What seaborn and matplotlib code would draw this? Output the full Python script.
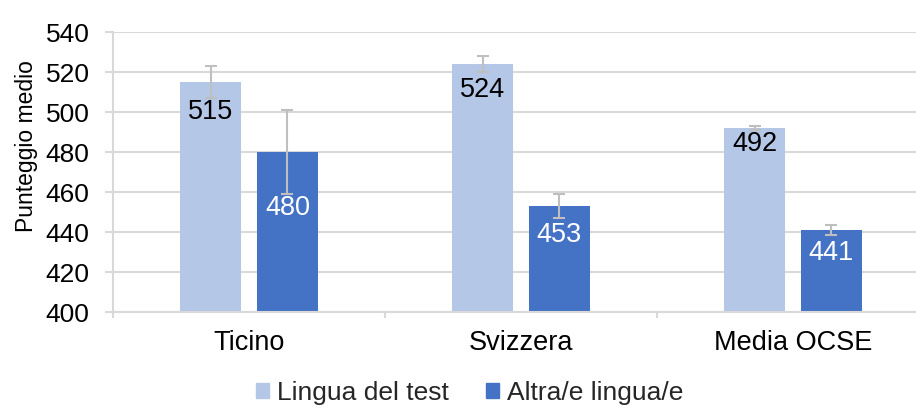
import matplotlib
matplotlib.use("Agg")
import matplotlib.pyplot as plt
import matplotlib.patches as mpatches
import pandas as pd
import seaborn as sns

# data
aree = ["Ticino", "Svizzera", "Media OCSE"]
gruppi = ["Lingua del test", "Altra/e lingua/e"]
punteggi_lingua_test = [515, 524, 492]
punteggi_altra_lingua = [480, 453, 441]
errori_lingua_test = [8, 4, 1]
errori_altra_lingua = [21, 6, 2.5]

colori = ["#B4C7E7", "#4472C4"]
colori_etichette = ["black", "white"]
# label offset below bar top (points), per group
offset_etichette = [[21.6, 18.7, 11.5], [40.3, 20.9, 16.6]]

df = pd.DataFrame({
    "Area": aree * 2,
    "Gruppo": [gruppi[0]] * 3 + [gruppi[1]] * 3,
    "Punteggio": punteggi_lingua_test + punteggi_altra_lingua,
})

sns.set_theme(style="white")
plt.rcParams["font.family"] = ["Liberation Sans", "DejaVu Sans"]

grigio = "#D9D9D9"

fig = plt.figure(figsize=(9.16, 4.08), dpi=100)
ax = fig.add_axes([113 / 916, 96 / 408, 816 / 916, 280 / 408])

sns.barplot(data=df, x="Area", y="Punteggio", hue="Gruppo", order=aree,
            hue_order=gruppi, palette=colori, saturation=1, width=0.566, gap=0.21,
            errorbar=None, linewidth=0, legend=False, ax=ax)

ax.set_ylim(400, 540)
ax.set_xlim(-0.5, 2.5)
ax.set_yticks(range(400, 541, 20))

valori = [punteggi_lingua_test, punteggi_altra_lingua]
errori = [errori_lingua_test, errori_altra_lingua]
bar_containers = list(ax.containers)
for i, cont in enumerate(bar_containers):
    for j, bar in enumerate(cont.patches):
        xc = bar.get_x() + bar.get_width() / 2
        ax.errorbar(xc, valori[i][j], yerr=errori[i][j], color="#BFBFBF",
                    lw=1.5, capsize=4.3, capthick=1.5, zorder=4)
        ax.annotate(str(valori[i][j]), (xc, valori[i][j]),
                    xytext=(0, -offset_etichette[i][j]), textcoords="offset points",
                    ha="center", va="center", fontsize=19.5,
                    color=colori_etichette[i], zorder=5)

ax.set_axisbelow(True)
ax.yaxis.grid(True, color=grigio, lw=1.5)
ax.xaxis.grid(False)
for s in ["top", "right"]:
    ax.spines[s].set_visible(False)
for s in ["left", "bottom"]:
    ax.spines[s].set_color(grigio)
    ax.spines[s].set_linewidth(1.5)

ax.set_xticks([-0.5, 0.5, 1.5, 2.5], minor=True)
ax.tick_params(axis="x", which="major", length=0, pad=13, labelsize=19.5, colors="black")
ax.tick_params(axis="x", which="minor", length=4.5, width=1.5, color=grigio)
ax.tick_params(axis="y", length=5.8, width=1.5, color=grigio, pad=11,
               labelsize=19, labelcolor="black")
ax.tick_params(axis="both", which="both", bottom=True, left=True)

ax.set_xlabel("")
ax.set_ylabel("Punteggio medio", fontsize=16.5, color="black")
ax.yaxis.set_label_coords(-0.092, 0.593)

handles = [mpatches.Patch(color=c, label=g) for c, g in zip(colori, gruppi)]
fig.legend(handles=handles, loc="center", bbox_to_anchor=(0.513, 0.037), ncol=2,
           frameon=False, fontsize=19, handlelength=0.5, handleheight=0.5,
           handletextpad=0.3, columnspacing=1.4, borderpad=0)

fig.savefig("out.png", dpi=100)
